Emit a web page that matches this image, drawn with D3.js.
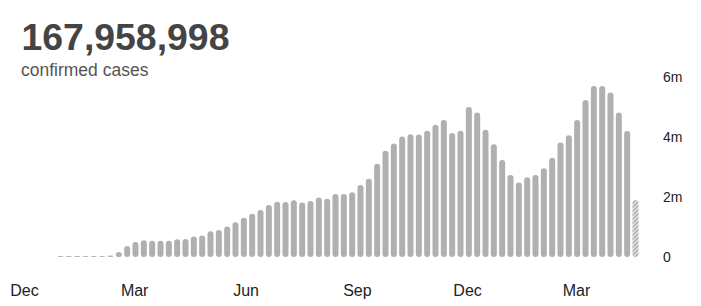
<!DOCTYPE html>
<html>
<head>
<meta charset="utf-8">
<script src="https://cdn.jsdelivr.net/npm/d3@7"></script>
<style>
  html, body { margin: 0; padding: 0; background: #fff; }
  svg { display: block; font-family: Arial, "Liberation Sans", sans-serif; }
</style>
</head>
<body>
<svg id="chart" width="701" height="306"></svg>
<script>
// ---- data ----
const totalCases = 167958998;
const subtitle = "confirmed cases";

// weekly new confirmed cases, in millions (last week is partial)
const weeklyCases = [
  0.004, 0.01, 0.012, 0.005, 0.005, 0.02, 0.05, 0.17, 0.37, 0.50,
  0.56, 0.54, 0.54, 0.54, 0.59, 0.60, 0.68, 0.72, 0.86, 0.90,
  1.02, 1.16, 1.31, 1.44, 1.57, 1.73, 1.84, 1.83, 1.89, 1.82,
  1.87, 1.98, 1.94, 2.10, 2.10, 2.16, 2.40, 2.61, 3.11, 3.54,
  3.78, 4.02, 4.09, 4.08, 4.21, 4.41, 4.57, 4.13, 4.21, 5.00,
  4.82, 4.24, 3.76, 3.23, 2.73, 2.48, 2.66, 2.73, 2.96, 3.31,
  3.82, 4.06, 4.57, 5.23, 5.70, 5.70, 5.48, 4.82, 4.20, 1.90
];
const partialWeek = weeklyCases.length - 1;

// x-axis month ticks
const monthTicks = ["2019-12-01", "2020-03-01", "2020-06-01", "2020-09-01", "2020-12-01", "2021-03-01"];
const timeDomain = ["2019-12-01", "2021-03-01"];

// y-axis ticks (millions)
const yTicks = [0, 2, 4, 6];

// ---- chart ----
const svg = d3.select("#chart");
const parse = d3.utcParse("%Y-%m-%d");

// categories: week index labels
const weeks = weeklyCases.map((d, i) => "w" + i);

const x = d3.scaleBand()
  .domain(weeks)
  .range([57.5, 638.5])
  .paddingInner(0.28)
  .paddingOuter(0);

const y = d3.scaleLinear()
  .domain([0, 6])
  .range([257, 77]);

const xTime = d3.scaleUtc()
  .domain(timeDomain.map(parse))
  .range([24, 576]);

// hatch pattern
const defs = svg.append("defs");
const pat = defs.append("pattern")
  .attr("id", "hatch")
  .attr("patternUnits", "userSpaceOnUse")
  .attr("width", 4)
  .attr("height", 4);
pat.append("rect").attr("width", 4).attr("height", 4).attr("fill", "#e6e6e6");
pat.append("path")
  .attr("d", "M-1,1 l2,-2 M0,4 l4,-4 M3,5 l2,-2")
  .attr("stroke", "#a8a8a8")
  .attr("stroke-width", 1.3);

// title
svg.append("text")
  .attr("x", 21.5)
  .attr("y", 50)
  .attr("font-size", 37.4)
  .attr("font-weight", "bold")
  .attr("fill", "#444")
  .text(d3.format(",")(totalCases));

svg.append("text")
  .attr("x", 21)
  .attr("y", 76)
  .attr("font-size", 17.5)
  .attr("fill", "#555")
  .text(subtitle);

// bars
svg.append("g")
  .selectAll("rect")
  .data(weeklyCases)
  .join("rect")
  .attr("x", (d, i) => x(weeks[i]))
  .attr("width", x.bandwidth())
  .attr("y", d => Math.min(y(d), y(0) - 1))
  .attr("height", d => Math.max(1, y(0) - y(d)))
  .attr("rx", x.bandwidth() / 2)
  .attr("ry", x.bandwidth() / 2)
  .attr("fill", (d, i) => i === partialWeek ? "url(#hatch)" : "#b0b0b0");

// x axis
const xAxis = svg.append("g")
  .attr("transform", "translate(0,285)")
  .call(d3.axisBottom(xTime)
    .tickValues(monthTicks.map(parse))
    .tickFormat(d3.utcFormat("%b"))
    .tickSize(0)
    .tickPadding(0));
xAxis.select(".domain").remove();
xAxis.selectAll("text")
  .attr("font-size", 16)
  .attr("font-family", "Arial, 'Liberation Sans', sans-serif")
  .attr("fill", "#222");

// y axis
const yAxis = svg.append("g")
  .attr("transform", "translate(663,0)")
  .call(d3.axisRight(y)
    .tickValues(yTicks)
    .tickFormat(d => d === 0 ? "0" : d + "m")
    .tickSize(0)
    .tickPadding(0));
yAxis.select(".domain").remove();
yAxis.selectAll("text")
  .attr("font-size", 14)
  .attr("font-family", "Arial, 'Liberation Sans', sans-serif")
  .attr("fill", "#222");
</script>
</body>
</html>
